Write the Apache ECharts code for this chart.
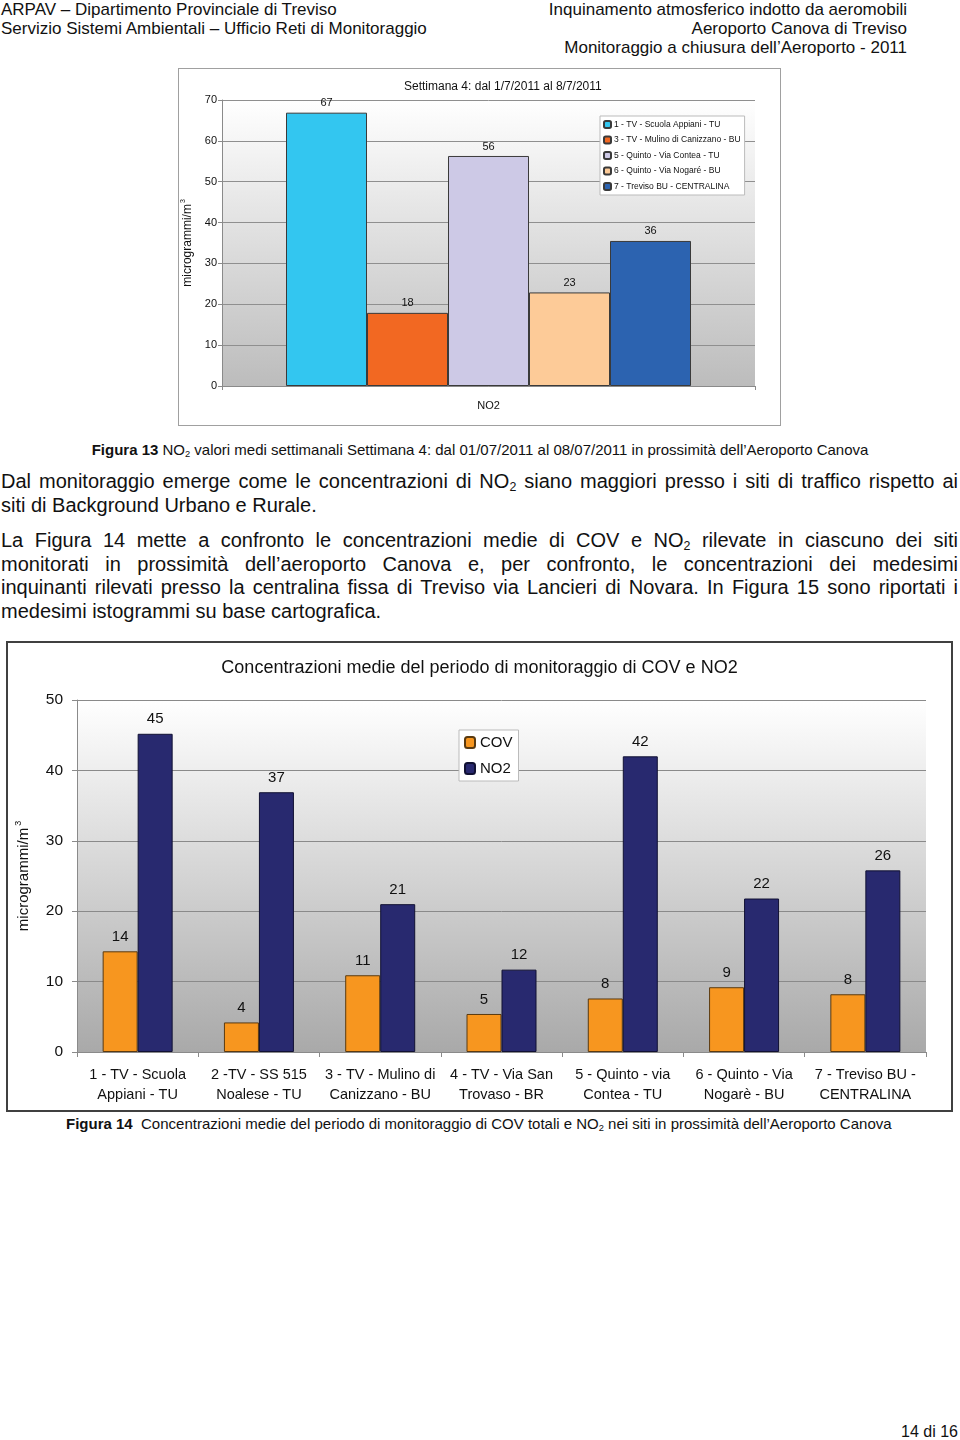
<!DOCTYPE html>
<html><head><meta charset="utf-8">
<script src="https://cdn.jsdelivr.net/npm/echarts@6/dist/echarts.min.js"></script>
<style>
html,body{margin:0;padding:0;background:#fff;}
body{width:960px;height:1440px;position:relative;font-family:"Liberation Sans",Arial,sans-serif;color:#111;overflow:hidden;}
.abs{position:absolute;white-space:nowrap;}
.hdr{font-size:17px;line-height:19.5px;}
.ln{position:absolute;left:1px;width:957px;font-size:20px;line-height:23.5px;white-space:nowrap;}
.j{text-align:justify;text-align-last:justify;}
.cap{font-size:15px;}
sub{font-size:0.62em;vertical-align:-0.25em;line-height:0;}
#c1{position:absolute;left:178px;top:68px;width:601px;height:356px;border:1px solid #a0a0a0;}
#c2{position:absolute;left:6px;top:641px;width:943px;height:467px;border:2px solid #404040;}
</style></head>
<body>
<div class="abs hdr" style="left:1px;top:0px;">ARPAV – Dipartimento Provinciale di Treviso</div>
<div class="abs hdr" style="left:1px;top:19px;">Servizio Sistemi Ambientali – Ufficio Reti di Monitoraggio</div>
<div class="abs hdr" style="right:53px;top:0px;text-align:right;">Inquinamento atmosferico indotto da aeromobili</div>
<div class="abs hdr" style="right:53px;top:19px;text-align:right;">Aeroporto Canova di Treviso</div>
<div class="abs hdr" style="right:53px;top:38px;text-align:right;">Monitoraggio a chiusura dell’Aeroporto - 2011</div>

<div id="c1"></div>

<div class="abs cap" style="left:0;width:960px;text-align:center;top:441px;"><b>Figura 13</b> NO<sub>2</sub> valori medi settimanali Settimana 4: dal 01/07/2011 al 08/07/2011 in prossimità dell’Aeroporto Canova</div>

<div class="ln j" style="top:470px;">Dal monitoraggio emerge come le concentrazioni di NO<sub>2</sub> siano maggiori presso i siti di traffico rispetto ai</div>
<div class="ln" style="top:494px;">siti di Background Urbano e Rurale.</div>
<div class="ln j" style="top:529px;">La Figura 14 mette a confronto le concentrazioni medie di COV e NO<sub>2</sub> rilevate in ciascuno dei siti</div>
<div class="ln j" style="top:553px;">monitorati in prossimità dell’aeroporto Canova e, per confronto, le concentrazioni dei medesimi</div>
<div class="ln j" style="top:576px;">inquinanti rilevati presso la centralina fissa di Treviso via Lancieri di Novara. In Figura 15 sono riportati i</div>
<div class="ln" style="top:600px;">medesimi istogrammi su base cartografica.</div>

<div id="c2"></div>

<div class="abs cap" style="left:66px;top:1115px;"><b>Figura 14</b>&nbsp; Concentrazioni medie del periodo di monitoraggio di COV totali e NO<sub>2</sub> nei siti in prossimità dell’Aeroporto Canova</div>

<div class="abs" style="right:2px;top:1423px;font-size:16px;">14 di 16</div>

<script>
// ---- Figure 13 data ----
var fig13Title = "Settimana 4: dal 1/7/2011 al 8/7/2011";
var fig13Category = ["NO2"];
var fig13Sites = ["1 - TV - Scuola Appiani - TU", "3 - TV - Mulino di Canizzano - BU", "5 - Quinto - Via Contea - TU", "6 - Quinto - Via Nogaré - BU", "7 - Treviso BU - CENTRALINA"];
var fig13Values = [66.9, 17.9, 56.3, 22.9, 35.5];
var fig13Colors = ["#33c6f0", "#f26822", "#cdc9e6", "#fdcb98", "#2c63b0"];
var fig13Ticks = [0, 10, 20, 30, 40, 50, 60, 70];

// ---- Figure 14 data ----
var fig14Title = "Concentrazioni medie del periodo di monitoraggio di COV e NO2";
var fig14Categories = ["1 - TV - Scuola\nAppiani - TU", "2 -TV - SS 515\nNoalese - TU", "3 - TV - Mulino di\nCanizzano - BU", "4 - TV - Via San\nTrovaso - BR", "5 - Quinto - via\nContea - TU", "6 - Quinto - Via\nNogarè - BU", "7 - Treviso BU -\nCENTRALINA"];
var fig14COV = [14.3, 4.2, 10.9, 5.4, 7.6, 9.2, 8.2];
var fig14NO2 = [45.2, 36.9, 21.0, 11.7, 42.0, 21.8, 25.8];
var fig14Ticks = [0, 10, 20, 30, 40, 50];

var axisName = "microgrammi/m{sup|3}";
var FONT = "Liberation Sans, Arial, sans-serif";

function bgGrad(bottom){
  return new echarts.graphic.LinearGradient(0,0,0,1,[{offset:0,color:'#ffffff'},{offset:1,color:bottom}]);
}

var c1 = echarts.init(document.getElementById('c1'), null, {renderer:'canvas'});
c1.setOption({
  animation:false,
  textStyle:{fontFamily:FONT},
  title:{text:fig13Title,left:220,top:7,textStyle:{fontSize:12,fontWeight:'normal',color:'#111',fontFamily:FONT}},
  legend:{
    orient:'vertical',left:421,top:47,
    data:fig13Sites,
    itemWidth:7,itemHeight:7,itemGap:6.5,
    backgroundColor:'#ffffff',borderColor:'#bbbbbb',borderWidth:1,
    padding:[4,4,4,3],
    textStyle:{fontSize:8.5,color:'#111',fontFamily:FONT,padding:[0,0,0,-2]}
  },
  grid:{left:43,top:31,right:25,bottom:39,show:true,borderWidth:0,outerBoundsMode:'none',containLabel:false,backgroundColor:bgGrad('#bcbcbc')},
  xAxis:{
    type:'category',data:fig13Category,
    axisLine:{lineStyle:{color:'#8a8a8a'}},
    axisTick:{show:true,length:4,lineStyle:{color:'#8a8a8a'}},
    axisLabel:{fontSize:11,color:'#111',margin:14}
  },
  yAxis:{
    type:'value',min:fig13Ticks[0],max:fig13Ticks[fig13Ticks.length-1],interval:10,
    name:axisName,nameLocation:'middle',nameGap:16,nameRotate:90,
    nameTextStyle:{fontSize:12,color:'#111',fontFamily:FONT,rich:{sup:{fontSize:7,verticalAlign:'top',padding:[0,0,9,1]}}},
    axisLine:{show:true,lineStyle:{color:'#8a8a8a'}},
    axisTick:{show:true,length:4,lineStyle:{color:'#8a8a8a'}},
    splitLine:{lineStyle:{color:'#8f8f8f',width:1}},
    axisLabel:{fontSize:11,color:'#111',margin:5}
  },
  series:fig13Sites.map(function(name,i){
    return {
      type:'bar',name:name,data:[fig13Values[i]],
      barWidth:81,barGap:'0%',
      itemStyle:{color:fig13Colors[i],borderColor:'#3a3a3a',borderWidth:1},
      label:{show:true,position:'top',distance:4,fontSize:11,color:'#111',formatter:function(p){return Math.round(p.value);}}
    };
  })
});

var c2 = echarts.init(document.getElementById('c2'), null, {renderer:'canvas'});
c2.setOption({
  animation:false,
  textStyle:{fontFamily:FONT},
  title:{text:fig14Title,left:'center',top:11,textStyle:{fontSize:18,fontWeight:'normal',color:'#111',fontFamily:FONT}},
  legend:{
    orient:'vertical',left:451,top:87,
    data:['COV','NO2'],
    itemWidth:10,itemHeight:11,itemGap:11,
    backgroundColor:'#ffffff',borderColor:'#bbbbbb',borderWidth:1,
    padding:[5,6,5,5],
    textStyle:{fontSize:15,color:'#111',fontFamily:FONT,padding:[0,0,0,0]}
  },
  grid:{left:69,top:57,right:25,bottom:58,show:true,borderWidth:0,outerBoundsMode:'none',containLabel:false,backgroundColor:bgGrad('#a9a9a9')},
  xAxis:{
    type:'category',data:fig14Categories,
    axisLine:{lineStyle:{color:'#8a8a8a'}},
    axisTick:{show:true,length:5,lineStyle:{color:'#8a8a8a'}},
    axisLabel:{fontSize:14.5,color:'#111',margin:13,lineHeight:20,interval:0}
  },
  yAxis:{
    type:'value',min:fig14Ticks[0],max:fig14Ticks[fig14Ticks.length-1],interval:10,
    name:axisName,nameLocation:'middle',nameGap:43,nameRotate:90,
    nameTextStyle:{fontSize:15,color:'#111',fontFamily:FONT,rich:{sup:{fontSize:9,verticalAlign:'top',padding:[0,0,11,2]}}},
    axisLine:{show:true,lineStyle:{color:'#8a8a8a'}},
    axisTick:{show:true,length:5,lineStyle:{color:'#8a8a8a'}},
    splitLine:{lineStyle:{color:'#8a8a8a',width:1}},
    axisLabel:{fontSize:15.5,color:'#111',margin:14}
  },
  series:[
    {type:'bar',name:'COV',data:fig14COV,barWidth:35,barGap:'0%',
     itemStyle:{color:'#f7961f',borderColor:'#5a3a10',borderWidth:1},
     label:{show:true,position:'top',distance:7,fontSize:15,color:'#111',formatter:function(p){return Math.round(p.value);}}},
    {type:'bar',name:'NO2',data:fig14NO2,barWidth:35,barGap:'0%',
     itemStyle:{color:'#28296f',borderColor:'#111133',borderWidth:1},
     label:{show:true,position:'top',distance:7,fontSize:15,color:'#111',formatter:function(p){return Math.round(p.value);}}}
  ]
});
</script>
</body></html>
